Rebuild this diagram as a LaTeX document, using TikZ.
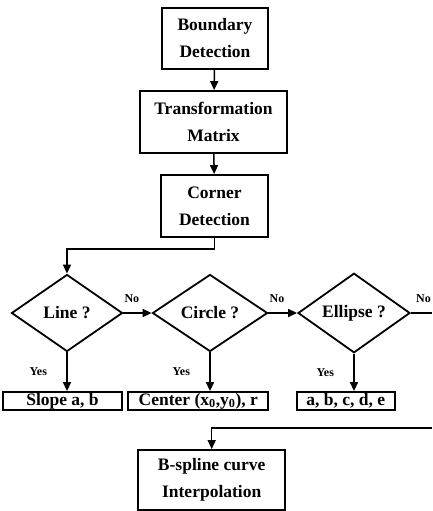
\documentclass[tikz,border=0pt]{standalone}
\usepackage{fontspec}
\setmainfont{Liberation Serif}
\usetikzlibrary{shapes.geometric,arrows.meta,positioning}

\begin{document}
\begin{tikzpicture}[x=1pt,y=-1pt,
  box/.style={draw,line width=1.8pt,align=center,inner sep=0pt,
    font=\fontsize{17.5}{27}\selectfont\bfseries},
  test/.style={draw,diamond,line width=1.8pt,inner sep=0pt,
    font=\fontsize{17.5}{20}\selectfont\bfseries},
  lbl/.style={font=\fontsize{12}{13}\selectfont\bfseries},
  arr/.style={line width=1.5pt,-{Triangle[length=9pt,width=8pt]}}]
  \useasboundingbox (0,0) rectangle (432,511);
  % process boxes
  \node[box,minimum width=106pt,minimum height=61pt](bound) at (215,38.5){Boundary\\Detection};
  \node[box,minimum width=147pt,minimum height=62pt](trans) at (213.5,122){Transformation\\Matrix};
  \node[box,minimum width=107pt,minimum height=62pt](corner) at (214.5,206){Corner\\Detection};
  % tests
  \node[test,minimum width=111pt,minimum height=77pt](line) at (67,313){Line ?};
  \node[test,minimum width=115pt,minimum height=77pt](circ) at (210,313){Circle ?};
  \node[test,minimum width=112pt,minimum height=77pt](ellip) at (354,313){Ellipse ?};
  % results
  \node[box,minimum width=119pt,minimum height=18pt](slope) at (62.5,401){Slope a, b};
  \node[box,minimum width=140pt,minimum height=18pt](center) at (198.3,401){Center (x\textsubscript{0},y\textsubscript{0}), r};
  \node[box,minimum width=98pt,minimum height=18pt](coef) at (345.8,401){a, b, c, d, e};
  \node[box,minimum width=147pt,minimum height=60pt](spline) at (211.7,480){B-spline curve\\Interpolation};
  \coordinate(exitR) at (432,313);
  \coordinate(feedR) at (432,428);
  % connectors
  \draw[arr](bound)--(trans);
  \draw[arr](trans)--(corner);
  \draw[arr](corner.south)--++(0,11)-|(line.north);
  \draw[arr](line.east)--(circ.west)node[lbl,pos=0.3,above=6pt]{No};
  \draw[arr](circ.east)--(ellip.west)node[lbl,pos=0.3,above=6pt]{No};
  \draw[line width=1.5pt](ellip.east)--(exitR)node[lbl,pos=0.6,above=6pt]{No};
  \draw[arr](line.south)--(slope.north-|line.south)node[lbl,midway,left=16pt]{Yes};
  \draw[arr](circ.south)--(center.north-|circ.south)node[lbl,midway,left=16pt]{Yes};
  \draw[arr](ellip.south)--(coef.north-|ellip.south)node[lbl,midway,left=16pt]{Yes};
  \draw[arr](feedR)-|(spline.north);
\end{tikzpicture}
\end{document}
